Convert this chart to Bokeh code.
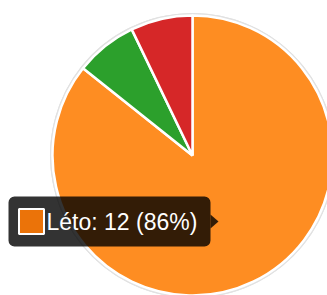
import numpy as np
from bokeh.plotting import figure
from bokeh.models import Range1d, ColumnDataSource, BoxAnnotation
from bokeh.core.properties import value
from bokeh.embed import file_html
from bokeh.resources import INLINE

labels = ["Jaro", "Léto", "Podzim", "Zima"]
counts = [0, 12, 1, 1]
colors = ["#1f77b4", "#fe8d22", "#2ca02c", "#d62728"]
hover_label = "Léto"

W, H = 327, 295
p = figure(width=W, height=H, output_backend="svg", toolbar_location=None,
           x_range=Range1d(0, W), y_range=Range1d(0, H), min_border=0)
p.axis.visible = False
p.grid.visible = False
p.outline_line_color = None
p.background_fill_color = "white"
p.border_fill_color = "white"

cx, cy, r = 192, 140, 140
vals = np.array(counts, dtype=float)
total = vals.sum()
frac = vals / total * 2 * np.pi
ends = np.cumsum(frac)
starts = ends - frac
mask = vals > 0
src = ColumnDataSource(dict(
    start=[np.pi / 2 - s for s, m in zip(starts, mask) if m],
    end=[np.pi / 2 - e for e, m in zip(ends, mask) if m],
    color=[c for c, m in zip(colors, mask) if m],
))
# outer grey edge
p.circle(x=cx, y=cy, radius=r + 1, fill_color=None, line_color="#dcdcdc", line_width=3)
p.wedge(x=cx, y=cy, radius=r, start_angle="start", end_angle="end", direction="clock",
        fill_color="color", line_color="#e2e2e2", line_width=5, source=src)
p.wedge(x=cx, y=cy, radius=r, start_angle="start", end_angle="end", direction="clock",
        fill_color="color", line_color="white", line_width=2.5, source=src)

# tooltip
i = labels.index(hover_label)
pct = round(100 * counts[i] / total)
tip_text = f"{hover_label}: {counts[i]} ({pct}%)"
tl, tr, tb, tt = 8, 210, 49, 99
ty = (tb + tt) / 2
p.add_layout(BoxAnnotation(left=tl, right=tr, bottom=tb, top=tt, fill_color="black",
                           fill_alpha=0.8, line_color=None, border_radius=6))
tri = p.patch(x=[tr, tr + 8, tr], y=[ty + 7, ty, ty - 7], fill_color="black", fill_alpha=0.8,
              line_color=None)
box = p.rect(x=31, y=ty, width=25, height=25, fill_color="#eb7309", line_color="white",
             line_width=2)
txt = p.text(x=[46], y=[ty], text=[tip_text], text_color="white",
             text_font=value("Liberation Sans"), text_font_size="23px",
             text_baseline="middle", text_align="left")
box.level = "overlay"
txt.level = "overlay"

open("out.html", "w").write(file_html(p, INLINE))
